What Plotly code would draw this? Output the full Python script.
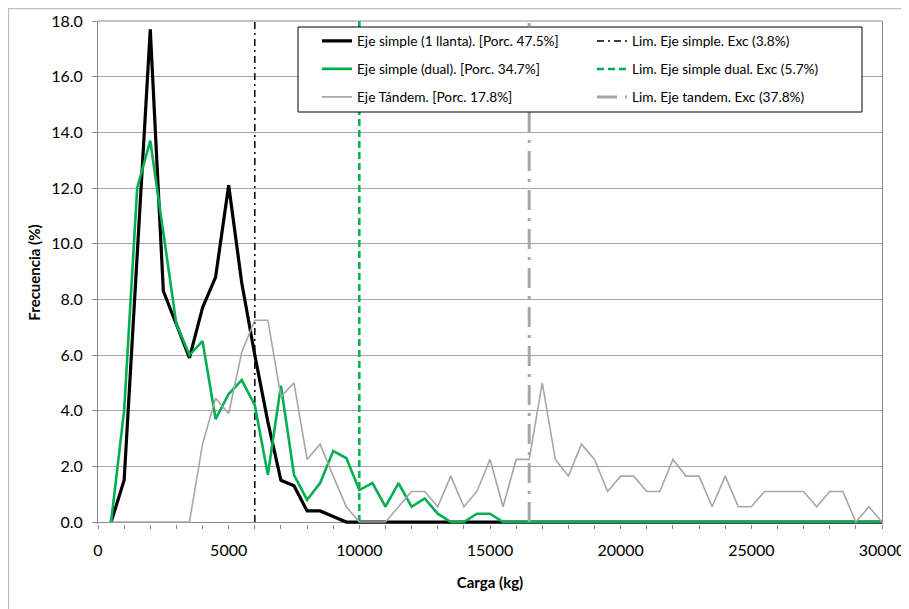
import plotly.graph_objects as go

# ---------------- data ----------------
carga = [500, 1000, 1500, 2000, 2500, 3000, 3500, 4000, 4500, 5000,
         5500, 6000, 6500, 7000, 7500, 8000, 8500, 9000, 9500, 10000,
         10500, 11000, 11500, 12000, 12500, 13000, 13500, 14000, 14500, 15000,
         15500, 16000, 16500, 17000, 17500, 18000, 18500, 19000, 19500, 20000,
         20500, 21000, 21500, 22000, 22500, 23000, 23500, 24000, 24500, 25000,
         25500, 26000, 26500, 27000, 27500, 28000, 28500, 29000, 29500, 30000]

eje_simple = [0, 1.5, 9.6, 17.7, 8.3, 7.1, 5.9, 7.7, 8.8, 12.1,
              8.6, 6.0, 3.6, 1.5, 1.3, 0.4, 0.4, 0.2, 0, 0,
              0, 0, 0, 0, 0, 0, 0, 0, 0, 0,
              0, 0, 0, 0, 0, 0, 0, 0, 0, 0,
              0, 0, 0, 0, 0, 0, 0, 0, 0, 0,
              0, 0, 0, 0, 0, 0, 0, 0, 0, 0]

eje_dual = [0, 4.0, 12.0, 13.7, 10.4, 7.1, 6.0, 6.5, 3.7, 4.6,
            5.1, 4.2, 1.7, 4.9, 1.7, 0.8, 1.4, 2.55, 2.3, 1.15,
            1.4, 0.55, 1.4, 0.55, 0.85, 0.3, 0, 0, 0.3, 0.3,
            0, 0, 0, 0, 0, 0, 0, 0, 0, 0,
            0, 0, 0, 0, 0, 0, 0, 0, 0, 0,
            0, 0, 0, 0, 0, 0, 0, 0, 0, 0]

eje_tandem = [0, 0, 0, 0, 0, 0, 0, 2.8, 4.45, 3.9,
              6.1, 7.25, 7.25, 4.5, 5.0, 2.25, 2.8, 1.65, 0.55, 0,
              0, 0, 0.55, 1.1, 1.1, 0.55, 1.65, 0.55, 1.1, 2.25,
              0.55, 2.25, 2.25, 5.0, 2.25, 1.65, 2.8, 2.25, 1.1, 1.65,
              1.65, 1.1, 1.1, 2.25, 1.65, 1.65, 0.55, 1.65, 0.55, 0.55,
              1.1, 1.1, 1.1, 1.1, 0.55, 1.1, 1.1, 0, 0.55, 0]

lim_simple = 6000
lim_dual = 10000
lim_tandem = 16500
lim_y = [0, 18]

names = ["Eje simple (1 llanta). [Porc. 47.5%]",
         "Lim. Eje simple. Exc (3.8%)",
         "Eje simple (dual). [Porc. 34.7%]",
         "Lim. Eje simple dual. Exc (5.7%)",
         "Eje Tándem. [Porc. 17.8%]",
         "Lim. Eje tandem. Exc (37.8%)"]

x_ticks = [0, 5000, 10000, 15000, 20000, 25000, 30000]

# ---------------- styling ----------------
FONT = "Lato, 'Open Sans', sans-serif"
BLACK = "#000000"
GREEN = "#00b050"
GRAY = "#a6a6a6"
AXIS = "#898989"
GRID = "#a6a6a6"

fig = go.Figure()

fig.add_trace(go.Scatter(x=carga, y=eje_simple, mode="lines", name=names[0],
                         line=dict(color=BLACK, width=3.2), legend="legend"))
fig.add_trace(go.Scatter(x=[lim_simple, lim_simple], y=lim_y, mode="lines", name=names[1],
                         line=dict(color=BLACK, width=1.5, dash="7px,4px,2px,4px"), legend="legend2"))
fig.add_trace(go.Scatter(x=carga, y=eje_dual, mode="lines", name=names[2],
                         line=dict(color=GREEN, width=2.6), legend="legend3"))
fig.add_trace(go.Scatter(x=[lim_dual, lim_dual], y=lim_y, mode="lines", name=names[3],
                         line=dict(color=GREEN, width=2.5, dash="7px,4px"), legend="legend4"))
fig.add_trace(go.Scatter(x=carga, y=eje_tandem, mode="lines", name=names[4],
                         line=dict(color=GRAY, width=1.6), legend="legend5"))
fig.add_trace(go.Scatter(x=[lim_tandem, lim_tandem], y=lim_y, mode="lines", name=names[5],
                         line=dict(color=GRAY, width=3, dash="20px,8px,3px,8px"), legend="legend6"))

# The page has an 8px body margin; figure is offset by (8, 8) in the window.
OFF = 8
W, H = 909 - OFF, 609 - OFF
# plot area in page pixels: left 98, right 882, top 21, bottom 524
PL, PR, PT, PB = 98, 882, 21, 524
L, R, T, B = PL - OFF, PR - OFF, PT - OFF, PB - OFF

def px(page_x):
    return (page_x - PL) / (PR - PL)

def py(page_y):
    return (PB - page_y) / (PB - PT)

leg_common = dict(bgcolor="rgba(0,0,0,0)", borderwidth=0,
                  font=dict(family=FONT, size=13.7, color="#000000"),
                  xanchor="left", yanchor="middle", itemwidth=30, orientation="v")
col1_x, col2_x = 317, 592
rows_y = [41, 69, 97]
legends = {}
keys = ["legend", "legend2", "legend3", "legend4", "legend5", "legend6"]
for i, k in enumerate(keys):
    cx = col1_x if i % 2 == 0 else col2_x
    ry = rows_y[i // 2]
    legends[k] = dict(leg_common, x=px(cx), y=py(ry))

fig.update_layout(
    width=W, height=H,
    autosize=False,
    margin=dict(l=L, r=W - R, t=T, b=H - B, pad=0, autoexpand=False),
    paper_bgcolor="white", plot_bgcolor="white",
    font=dict(family=FONT, color="#000000"),
    showlegend=True,
    **legends,
    xaxis=dict(range=[0, 30000], tickvals=x_ticks, ticktext=[str(v) for v in x_ticks],
               automargin=False,
               showgrid=False, zeroline=False, showline=False,
               ticks="outside", ticklen=4, tickcolor=AXIS, tickwidth=1,
               ticklabelstandoff=8,
               minor=dict(dtick=1000, ticks="outside", ticklen=4, tickcolor=AXIS, tickwidth=1, showgrid=False),
               tickfont=dict(family=FONT, size=16, color="#000000"),
               title=dict(text="<b>Carga (kg)</b>", font=dict(family=FONT, size=15, color="#000000"), standoff=19)),
    yaxis=dict(range=[-0.07, 18], tickvals=[0, 2, 4, 6, 8, 10, 12, 14, 16, 18],
               automargin=False,
               tickformat=".1f", showgrid=True, gridcolor=GRID, gridwidth=1,
               zeroline=True, zerolinecolor=AXIS, zerolinewidth=1,
               showline=True, linecolor=AXIS, linewidth=1, mirror=True,
               ticks="outside", ticklen=5, tickcolor=AXIS,
               ticklabelstandoff=6,
               tickfont=dict(family=FONT, size=16, color="#000000"),
               title=dict(text="<b>Frecuencia (%)</b>", font=dict(family=FONT, size=15, color="#000000"), standoff=6)),
    shapes=[
        # plot-area top border
        dict(type="line", xref="paper", yref="paper", x0=0, x1=1, y0=1, y1=1,
             line=dict(color=AXIS, width=1), layer="above"),
        # outer chart border (left/top visible)
        dict(type="rect", xref="paper", yref="paper", x0=px(8.6), x1=px(960), y0=py(700), y1=py(8.6),
             line=dict(color="#c0c0c0", width=1.2), fillcolor="rgba(0,0,0,0)", layer="below"),
        # legend box
        dict(type="rect", xref="paper", yref="paper", x0=px(298), x1=px(862), y0=py(112), y1=py(27),
             line=dict(color="#000000", width=1), fillcolor="white", layer="above"),
    ],
)

fig.write_html("out.html")
